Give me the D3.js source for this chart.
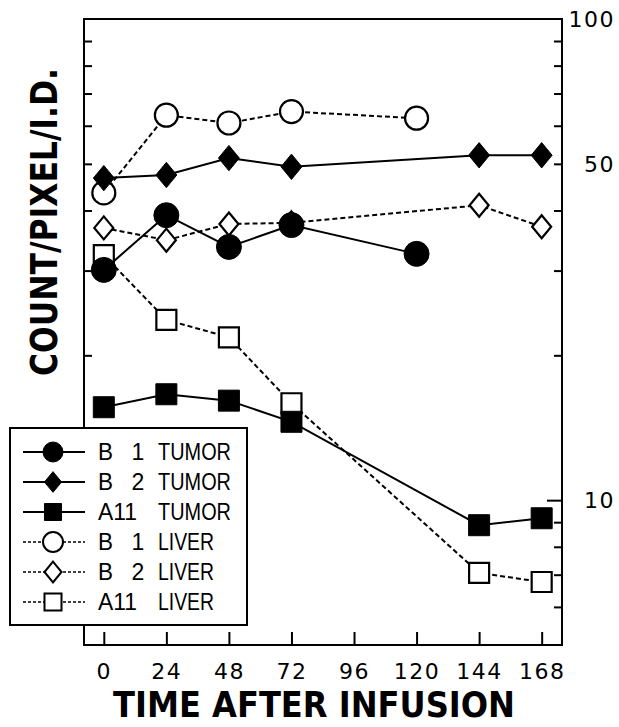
<!DOCTYPE html>
<html><head><meta charset="utf-8">
<script src="https://cdn.jsdelivr.net/npm/d3@7"></script>
<style>body{margin:0;background:#fff}svg{display:block}</style>
</head><body>
<svg id="c" width="619" height="727"></svg>
<script>
const hourTicks = [0, 24, 48, 72, 96, 120, 144, 168];
const yLabelTicks = [100, 50, 10];
const yMinorTicks = [90, 80, 70, 60, 50, 40, 30, 20, 10, 9, 8, 7, 6];

const b1TumorHours = [0, 24, 48, 72, 120];
const b1TumorValues = [30.1, 39.1, 33.6, 37.3, 32.5];
const b2TumorHours = [0, 24, 48, 72, 144, 168];
const b2TumorValues = [46.7, 47.4, 51.4, 49.3, 52.1, 52.1];
const a11TumorHours = [0, 24, 48, 72, 144, 168];
const a11TumorValues = [15.6, 16.6, 16.1, 14.55, 8.87, 9.17];
const b1LiverHours = [0, 24, 48, 72, 120];
const b1LiverValues = [43.5, 63.1, 60.8, 64.2, 62.2];
const b2LiverHours = [0, 24, 48, 72, 144, 168];
const b2LiverValues = [36.8, 34.7, 37.5, 37.7, 41.0, 37.0];
const a11LiverHours = [0, 24, 48, 72, 144, 168];
const a11LiverValues = [32.3, 23.7, 21.8, 15.9, 7.06, 6.76];

const seriesNames = [["B", "1", "TUMOR"], ["B", "2", "TUMOR"], ["A11", "", "TUMOR"], ["B", "1", "LIVER"], ["B", "2", "LIVER"], ["A11", "", "LIVER"]];

const series = [
  {hours: b1TumorHours, values: b1TumorValues, shape: "circle", filled: true, dashed: false, name: seriesNames[0]},
  {hours: b2TumorHours, values: b2TumorValues, shape: "diamond", filled: true, dashed: false, name: seriesNames[1]},
  {hours: a11TumorHours, values: a11TumorValues, shape: "square", filled: true, dashed: false, name: seriesNames[2]},
  {hours: b1LiverHours, values: b1LiverValues, shape: "circle", filled: false, dashed: true, name: seriesNames[3]},
  {hours: b2LiverHours, values: b2LiverValues, shape: "diamond", filled: false, dashed: true, name: seriesNames[4]},
  {hours: a11LiverHours, values: a11LiverValues, shape: "square", filled: false, dashed: true, name: seriesNames[5]},
];

const svg = d3.select("#c");
const L = 84, R = 562, T = 19, B = 645;
const x = d3.scaleLinear().domain([-7.6, 175.8]).range([L, R]);
const y = d3.scaleLog().domain([5, 100]).range([B, T]);

function markerPath(shape, s) {
  if (shape === "circle") return d3.symbol(d3.symbolCircle, Math.PI * s * s)();
  if (shape === "square") return d3.symbol(d3.symbolSquare, (2 * s) * (2 * s))();
  return `M0,${-s * 1.15}L${s * 0.95},0L0,${s * 1.15}L${-s * 0.95},0Z`;
}
const plotSize = {circle: 12.5, square: 10.5, diamond: 11};
const openSize = {circle: 11.5, square: 10, diamond: 10};

// frame
svg.append("rect").attr("x", L).attr("y", T).attr("width", R - L).attr("height", B - T)
  .attr("fill", "none").attr("stroke", "#000").attr("stroke-width", 2);

// bottom axis (ticks inward)
const xAxis = d3.axisBottom(x).tickValues(hourTicks).tickSize(-13).tickPadding(18).tickSizeOuter(0);
const gx = svg.append("g").attr("transform", `translate(0,${B})`).call(xAxis);
gx.select(".domain").remove();
gx.selectAll("line").attr("stroke-width", 2);
gx.selectAll("text").attr("font-family", "DejaVu Sans, sans-serif").attr("font-size", 22)
  .attr("letter-spacing", 1.5).attr("fill", "#000");

// right axis ticks inward
const yAxisR = d3.axisRight(y).tickValues(yMinorTicks).tickSize(0).tickFormat("");
const gr = svg.append("g").attr("transform", `translate(${R},0)`).call(yAxisR);
gr.select(".domain").remove();
gr.selectAll(".tick").append("line").attr("x1", 0).attr("x2", d => d === 10 ? -15 : -8)
  .attr("stroke", "#000").attr("stroke-width", 2);
svg.append("g").selectAll("text").data(yLabelTicks).join("text")
  .attr("x", 615).attr("y", d => y(d)).attr("dy", "0.36em").attr("text-anchor", "end")
  .attr("font-family", "DejaVu Sans, sans-serif").attr("font-size", 22).attr("letter-spacing", 1.5)
  .text(d => d);

// left axis ticks inward
const yAxisL = d3.axisLeft(y).tickValues(yMinorTicks).tickSize(0).tickFormat("");
const gl = svg.append("g").attr("transform", `translate(${L},0)`).call(yAxisL);
gl.select(".domain").remove();
gl.selectAll(".tick").append("line").attr("x1", 0).attr("x2", d => d === 10 ? 15 : 8)
  .attr("stroke", "#000").attr("stroke-width", 2);

// series: liver first, then tumor on top
const order = [3, 4, 5, 0, 1, 2];
const line = d3.line().x(d => x(d[0])).y(d => y(d[1]));
order.forEach(i => {
  const s = series[i];
  const pts = s.hours.map((h, k) => [h, s.values[k]]);
  const g = svg.append("g");
  g.append("path").attr("d", line(pts)).attr("fill", "none").attr("stroke", "#000")
    .attr("stroke-width", 2).attr("stroke-dasharray", s.dashed ? "5,3" : null);
  const sz = s.filled ? plotSize[s.shape] : openSize[s.shape];
  g.selectAll(".m").data(pts).join("path")
    .attr("transform", d => `translate(${x(d[0])},${y(d[1])})`)
    .attr("d", markerPath(s.shape, sz))
    .attr("fill", s.filled ? "#000" : "#fff").attr("stroke", "#000").attr("stroke-width", s.filled ? 1 : 2.2);
});

// legend
const lg = svg.append("g");
lg.append("rect").attr("x", 10).attr("y", 428).attr("width", 237).attr("height", 197)
  .attr("fill", "#fff").attr("stroke", "#000").attr("stroke-width", 2);
const rowY = d3.scalePoint().domain(d3.range(6)).range([452, 602]);
const colWidths = {"B": 15, "A11": 39, "TUMOR": 73, "LIVER": 56};
series.forEach((s, i) => {
  const yy = rowY(i);
  lg.append("line").attr("x1", 23).attr("x2", 85).attr("y1", yy).attr("y2", yy)
    .attr("stroke", "#000").attr("stroke-width", s.dashed ? 1.5 : 2)
    .attr("stroke-dasharray", s.dashed ? "3,2" : null);
  const lsz = {circle: 10, square: 8.5, diamond: 9}[s.shape];
  lg.append("path").attr("transform", `translate(53,${yy})`).attr("d", markerPath(s.shape, lsz))
    .attr("fill", s.filled ? "#000" : "#fff").attr("stroke", "#000").attr("stroke-width", s.filled ? 1 : 2);
  const t = lg.append("g").attr("font-family", "Liberation Sans, Arial, sans-serif").attr("font-size", 23);
  t.append("text").attr("x", 98).attr("y", yy).attr("dy", "0.36em")
    .attr("textLength", colWidths[s.name[0]]).attr("lengthAdjust", "spacingAndGlyphs").text(s.name[0]);
  t.append("text").attr("x", 138).attr("y", yy).attr("dy", "0.36em").attr("text-anchor", "middle").text(s.name[1]);
  t.append("text").attr("x", 158).attr("y", yy).attr("dy", "0.36em")
    .attr("textLength", colWidths[s.name[2]]).attr("lengthAdjust", "spacingAndGlyphs").text(s.name[2]);
});

// titles
svg.append("text").attr("x", 314).attr("y", 717).attr("text-anchor", "middle")
  .attr("font-family", "DejaVu Sans, sans-serif").attr("font-weight", "bold").attr("font-size", 35)
  .attr("textLength", 402).attr("lengthAdjust", "spacingAndGlyphs").text("TIME AFTER INFUSION");
svg.append("text").attr("transform", "translate(57,222) rotate(-90)").attr("text-anchor", "middle")
  .attr("font-family", "DejaVu Sans, sans-serif").attr("font-weight", "bold").attr("font-size", 37)
  .attr("textLength", 308).attr("lengthAdjust", "spacingAndGlyphs").text("COUNT/PIXEL/I.D.");
</script>
</body></html>
